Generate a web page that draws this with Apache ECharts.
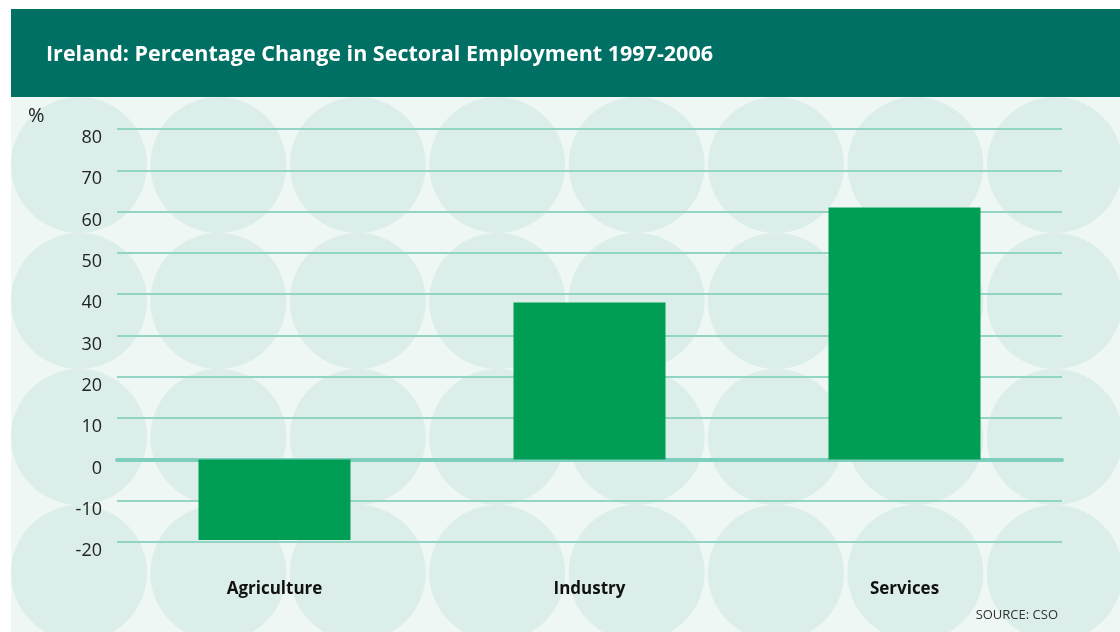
<!DOCTYPE html>
<html>
<head>
<meta charset="utf-8">
<title>Ireland: Percentage Change in Sectoral Employment 1997-2006</title>
<script src="https://cdn.jsdelivr.net/npm/echarts@6/dist/echarts.min.js"></script>
<style>
  html, body { margin: 0; padding: 0; background: #ffffff; }
  #chart { width: 1120px; height: 632px; }
</style>
</head>
<body>
<div id="chart"></div>
<script>
// Sectors and their percentage change in employment, 1997-2006
const categories = ['Agriculture', 'Industry', 'Services'];
const changePct = [-19.5, 38, 61];

// Value axis range and step
const yMin = -20;
const yMax = 80;
const yStep = 10;

const titleText = 'Ireland: Percentage Change in Sectoral Employment 1997-2006';
const unitLabel = '%';
const sourceText = 'SOURCE: CSO';

const FONT = '"Open Sans", "Noto Sans", sans-serif';

// Decorative backdrop: panel plus a lattice of pale circles
function backdrop() {
  const els = [];
  els.push({
    type: 'rect', z: -30, silent: true,
    shape: { x: 11, y: 97, width: 1109, height: 535 },
    style: { fill: '#eff7f5' }
  });
  const r = 68;
  for (let row = 0; row < 4; row++) {
    for (let col = 0; col < 8; col++) {
      els.push({
        type: 'circle', z: -20, silent: true,
        shape: { cx: 79 + col * 139.4, cy: 165 + row * 136, r: r },
        style: { fill: '#dbeeea' }
      });
    }
  }
  // header band
  els.push({
    type: 'rect', z: -5, silent: true,
    shape: { x: 11, y: 9, width: 1109, height: 88 },
    style: { fill: '#006f64' }
  });
  els.push({
    type: 'text', silent: true, z: 10,
    x: 28, y: 106,
    style: { text: unitLabel, fill: '#222', font: '20px ' + FONT }
  });
  els.push({
    type: 'text', silent: true, z: 10,
    x: 1058, y: 609,
    style: { text: sourceText, fill: '#333', font: '13px ' + FONT, align: 'right' }
  });
  return els;
}

const chart = echarts.init(document.getElementById('chart'), null, { renderer: 'canvas' });

chart.setOption({
  animation: false,
  backgroundColor: '#ffffff',
  title: {
    text: titleText,
    left: 41,
    top: 39,
    textStyle: { color: '#ffffff', fontFamily: FONT, fontWeight: 'bold', fontSize: 21.5 }
  },
  graphic: backdrop(),
  grid: { left: 117, right: 58, top: 129, bottom: 90, containLabel: false },
  xAxis: [
    {
      // zero baseline
      type: 'category',
      data: categories,
      axisLine: { show: true, onZero: true, lineStyle: { color: '#7fcfbe', width: 4 } },
      axisTick: { show: false },
      axisLabel: { show: false },
      splitLine: { show: false }
    },
    {
      // category names along the bottom
      type: 'category',
      data: categories,
      position: 'bottom',
      axisLine: { show: false, onZero: false },
      axisTick: { show: false },
      axisLabel: {
        show: true, margin: 39,
        color: '#111', fontFamily: FONT, fontWeight: 'bold', fontSize: 17
      },
      splitLine: { show: false }
    }
  ],
  yAxis: {
    type: 'value',
    min: yMin,
    max: yMax,
    interval: yStep,
    axisLine: { show: false },
    axisTick: { show: false },
    axisLabel: {
      color: '#222', fontFamily: FONT, fontSize: 18, margin: 15,
      verticalAlign: 'top'
    },
    splitLine: { show: true, lineStyle: { color: '#92d5c5', width: 2 } }
  },
  series: [{
    type: 'bar',
    xAxisIndex: 0,
    data: changePct,
    barWidth: 152,
    itemStyle: { color: '#009e55' }
  }]
});
</script>
</body>
</html>
